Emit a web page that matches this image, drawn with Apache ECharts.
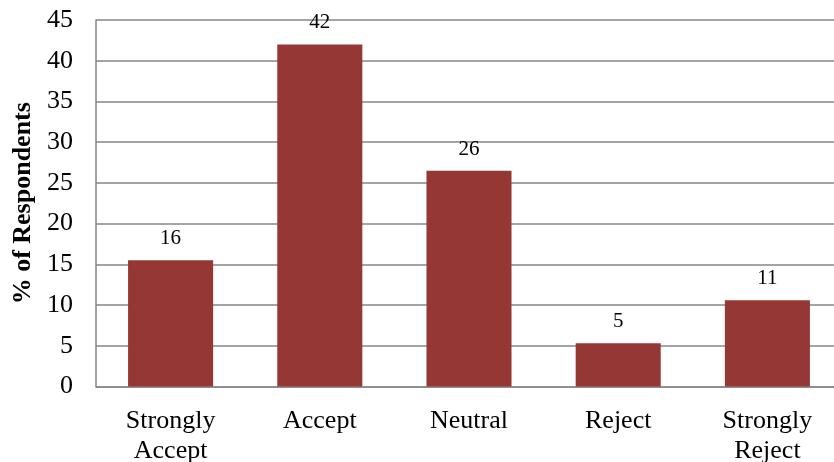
<!DOCTYPE html>
<html><head><meta charset="utf-8">
<script src="https://cdn.jsdelivr.net/npm/echarts@6/dist/echarts.min.js"></script>
<style>html,body{margin:0;padding:0;background:#fff}#c{width:834px;height:462px}</style>
</head><body><div id="c"></div>
<script>
const categories = ["Strongly\nAccept", "Accept", "Neutral", "Reject", "Strongly\nReject"];
const values = [15.5, 42.0, 26.5, 5.3, 10.6];
const valueLabels = ["16", "42", "26", "5", "11"];
const yTicks = { min: 0, max: 45, interval: 5 };
const yTitle = "% of Respondents";

const chart = echarts.init(document.getElementById('c'));
const F = '"Liberation Serif", "Times New Roman", serif';
chart.setOption({
  animation: false,
  grid: { left: 96, right: -8, top: 20, bottom: 75.5, containLabel: false, outerBoundsMode: 'none' },
  xAxis: {
    type: 'category', data: categories,
    axisLine: { show: true, lineStyle: { color: '#868686', width: 1.5 } },
    axisTick: { show: false },
    axisLabel: { margin: 20, fontFamily: F, fontSize: 26, color: '#000', lineHeight: 30, interval: 0 }
  },
  yAxis: {
    type: 'value', min: yTicks.min, max: yTicks.max, interval: yTicks.interval,
    name: yTitle, nameLocation: 'middle', nameGap: 58,
    nameTextStyle: { fontFamily: F, fontSize: 26, fontWeight: 'bold', color: '#000' },
    axisLine: { show: true, lineStyle: { color: '#868686', width: 1.5 } },
    axisTick: { show: false },
    axisLabel: { margin: 23, fontFamily: F, fontSize: 26, color: '#000' },
    splitLine: { show: true, lineStyle: { color: '#868686', width: 1.5 } }
  },
  series: [{
    type: 'bar', data: values, barWidth: '57%',
    itemStyle: { color: '#953735' },
    label: {
      show: true, position: 'top', distance: 11,
      fontFamily: F, fontSize: 21, color: '#000',
      formatter: p => valueLabels[p.dataIndex]
    }
  }]
});
</script></body></html>
